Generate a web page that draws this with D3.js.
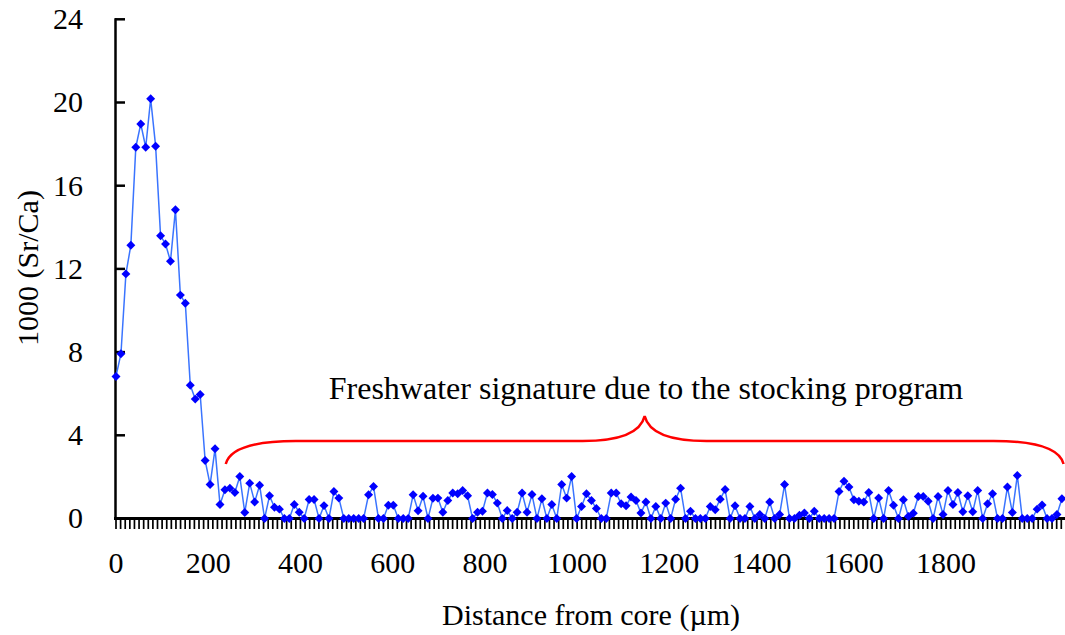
<!DOCTYPE html>
<html>
<head>
<meta charset="utf-8">
<script src="https://cdn.jsdelivr.net/npm/d3@7/dist/d3.min.js"></script>
<style>
  body { margin: 0; background: #fff; }
  text { font-family: "Liberation Serif", "Times New Roman", serif; fill: #000; }
</style>
</head>
<body>
<div id="chart"></div>
<script>
// Sr/Ca profile from core to edge, sampled at a regular laser step
var stepUm = 10.74;
var srCa = [
  6.83, 7.92, 11.76, 13.14, 17.85, 18.97, 17.85, 20.18, 17.9, 13.59,
  13.2, 12.37, 14.84, 10.74, 10.35, 6.41, 5.74, 5.96, 2.79, 1.63,
  3.35, 0.67, 1.38, 1.46, 1.25, 2.02, 0.29, 1.70, 0.79, 1.60,
  0, 1.09, 0.54, 0.45, 0, 0, 0.67, 0.30, 0, 0.91,
  0.91, 0, 0.62, 0, 1.30, 0.98, 0, 0, 0, 0,
  0, 1.14, 1.54, 0, 0, 0.64, 0.64, 0, 0, 0,
  1.14, 0.37, 1.07, 0, 0.97, 0.98, 0.30, 0.87, 1.23, 1.19,
  1.35, 1.09, 0, 0.30, 0.35, 1.23, 1.15, 0.74, 0, 0.38,
  0, 0.30, 1.23, 0.30, 1.15, 0, 0.95, 0, 0.67, 0,
  1.63, 0.98, 2.02, 0, 0.58, 1.19, 0.87, 0.48, 0, 0,
  1.23, 1.23, 0.71, 0.61, 1.03, 0.87, 0.26, 0.79, 0, 0.58,
  0, 0.74, 0, 0.93, 1.46, 0, 0.35, 0, 0, 0,
  0.58, 0.42, 0.93, 1.39, 0, 0.61, 0, 0, 0.58, 0,
  0.19, 0, 0.79, 0, 0.19, 1.63, 0, 0, 0.16, 0.26,
  0, 0.35, 0, 0, 0, 0, 1.30, 1.79, 1.51, 0.90,
  0.83, 0.79, 1.25, 0, 0.99, 0, 1.35, 0.64, 0, 0.90,
  0.1, 0.25, 1.06, 1.06, 0.83, 0, 1.06, 0.19, 1.35, 0.67,
  1.25, 0.32, 1.09, 0.32, 1.35, 0, 0.71, 1.19, 0, 0,
  1.51, 0.29, 2.07, 0, 0, 0, 0.45, 0.65, 0, 0,
  0.19, 0.95
];
var xTickLabels = [0, 200, 400, 600, 800, 1000, 1200, 1400, 1600, 1800];
var yTickLabels = [0, 4, 8, 12, 16, 20, 24];
var annotation = "Freshwater signature due to the stocking program";
var annotationSpan = [238, 2055];

var width = 1065, height = 635;
var x0 = 116, xMax = 2060;
var x = d3.scaleLinear().domain([0, xMax]).range([x0, x0 + xMax * 830 / 1800]);
var y = d3.scaleLinear().domain([0, 24]).range([518.5, 19.3]);

var svg = d3.select("#chart").append("svg")
  .attr("width", width)
  .attr("height", height);

var points = srCa.map(function (v, i) {
  return { d: i * stepUm, v: v };
});

// minor ticks hanging under the x axis, every 10 um
svg.append("g")
  .selectAll("line")
  .data(d3.range(0, xMax + 1, 10))
  .enter().append("line")
  .attr("x1", function (d) { return x(d); })
  .attr("x2", function (d) { return x(d); })
  .attr("y1", 519)
  .attr("y2", 529)
  .attr("stroke", "#000")
  .attr("stroke-width", 1.7);

// y axis ticks point inward
svg.append("g")
  .selectAll("line")
  .data(yTickLabels)
  .enter().append("line")
  .attr("x1", 115)
  .attr("x2", 125)
  .attr("y1", function (d) { return y(d); })
  .attr("y2", function (d) { return y(d); })
  .attr("stroke", "#000")
  .attr("stroke-width", 2.5);

svg.append("line")
  .attr("x1", 115.5).attr("x2", 115.5)
  .attr("y1", y(24) - 1).attr("y2", 519)
  .attr("stroke", "#000").attr("stroke-width", 2.5);
svg.append("line")
  .attr("x1", 114).attr("x2", width)
  .attr("y1", 518.5).attr("y2", 518.5)
  .attr("stroke", "#000").attr("stroke-width", 3);

svg.append("g")
  .selectAll("text")
  .data(yTickLabels)
  .enter().append("text")
  .attr("x", 83)
  .attr("y", function (d) { return y(d); })
  .attr("dy", "0.33em")
  .attr("text-anchor", "end")
  .style("font-size", "30px")
  .text(function (d) { return d; });

svg.append("g")
  .selectAll("text")
  .data(xTickLabels)
  .enter().append("text")
  .attr("x", function (d) { return x(d); })
  .attr("y", 573)
  .attr("text-anchor", "middle")
  .style("font-size", "30px")
  .text(function (d) { return d; });

svg.append("text")
  .attr("x", 591)
  .attr("y", 625)
  .attr("text-anchor", "middle")
  .style("font-size", "30px")
  .text("Distance from core (\u00b5m)");

svg.append("text")
  .attr("transform", "translate(38,268) rotate(-90)")
  .attr("text-anchor", "middle")
  .style("font-size", "30px")
  .text("1000 (Sr/Ca)");

// data line and diamond markers
var line = d3.line()
  .x(function (d) { return x(d.d); })
  .y(function (d) { return y(d.v); });

svg.append("path")
  .datum(points)
  .attr("d", line)
  .attr("fill", "none")
  .attr("stroke", "#3a74ff")
  .attr("stroke-width", 1.5);

var diamond = d3.symbol().type(d3.symbolSquare).size(40);
svg.append("g")
  .selectAll("path")
  .data(points)
  .enter().append("path")
  .attr("d", diamond)
  .attr("transform", function (d) {
    return "translate(" + x(d.d) + "," + y(d.v) + ") rotate(45)";
  })
  .attr("fill", "#0000ff");

// curly brace over the freshwater section
var bx1 = x(annotationSpan[0]), bx2 = x(annotationSpan[1]);
var bmid = (bx1 + bx2) / 2, by = 441, btip = 416;
var brace = d3.path();
brace.moveTo(bx1, 464);
brace.quadraticCurveTo(bx1 + 6, by, bx1 + 70, by);
brace.lineTo(bmid - 62, by);
brace.quadraticCurveTo(bmid - 6, by, bmid, btip);
brace.quadraticCurveTo(bmid + 6, by, bmid + 62, by);
brace.lineTo(bx2 - 70, by);
brace.quadraticCurveTo(bx2 - 6, by, bx2, 464);
svg.append("path")
  .attr("d", brace.toString())
  .attr("fill", "none")
  .attr("stroke", "#ff0000")
  .attr("stroke-width", 2.5);

svg.append("text")
  .attr("x", 646)
  .attr("y", 399)
  .attr("text-anchor", "middle")
  .style("font-size", "32px")
  .text(annotation);
</script>
</body>
</html>
